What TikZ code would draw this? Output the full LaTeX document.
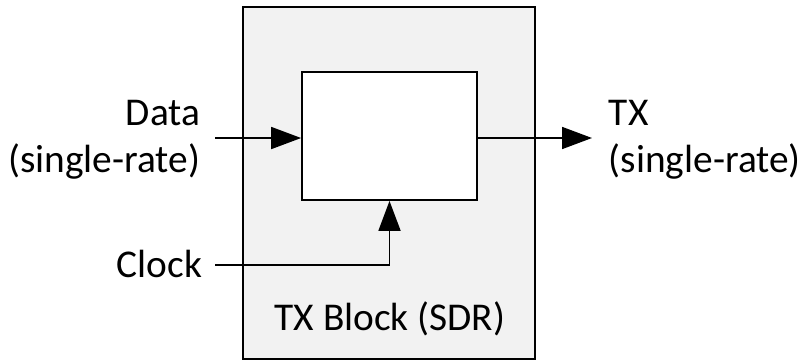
\documentclass[tikz,border=0pt]{standalone}
\usepackage{fontspec}
\setmainfont{Carlito}
\usepackage{tikz}
\usetikzlibrary{positioning,arrows.meta}
\definecolor{blockfill}{HTML}{F2F2F2}

\begin{document}
\begin{tikzpicture}[font=\fontsize{22.4}{26.5}\selectfont,
    line width=1pt,
    sig/.style={-{Triangle[length=0.6cm,width=0.44cm]}},
    lbl/.style={inner sep=0pt}]
  \def\W{16.1}
  \def\H{7.24}
  \useasboundingbox (0,0) rectangle (\W,-\H);
  % outer block and the register inside it
  \node[draw,fill=blockfill,minimum width=5.84cm,minimum height=7.04cm] (txblock) at (7.78,-3.66) {};
  \node[draw,fill=white,minimum width=3.5cm,minimum height=2.56cm] (reg) at (7.79,-2.72) {};
  \node[lbl] (blockname) at (7.8,-6.38) {TX Block (SDR)};
  % inputs
  \node[lbl,align=right,anchor=east] (datain) at (4.02,-2.8) {Data\\(single-rate)};
  \node[lbl,anchor=east] (clkin) at (4.06,-5.28) {Clock};
  \coordinate (dstart) at (4.3,-2.76);
  \coordinate (cstart) at (4.3,-5.3);
  \draw[sig] (dstart) -- (reg.west |- dstart);
  \draw[sig] (cstart) -| (reg.south);
  % output
  \coordinate (tend) at (11.84,-2.76);
  \draw[sig] (reg.east |- tend) -- (tend);
  \node[lbl,align=left,anchor=west] (txout) at (12.16,-2.8) {TX\\(single-rate)};
\end{tikzpicture}
\end{document}
